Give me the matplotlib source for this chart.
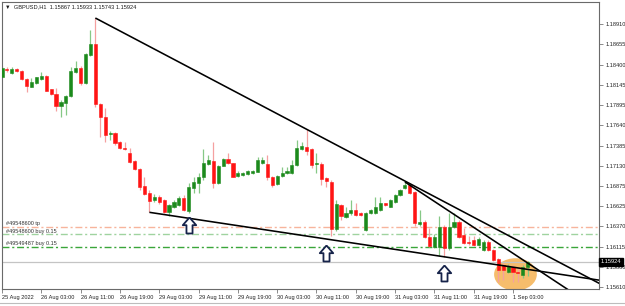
import matplotlib
matplotlib.use("Agg")
import matplotlib.pyplot as plt
from matplotlib.path import Path
from matplotlib.patches import Ellipse
from matplotlib.lines import Line2D
import numpy as np

plt.rcParams.update({"font.family": ["Liberation Sans", "DejaVu Sans"], "font.size": 4})

BULL = "#1c8a1c"; BEAR = "#ff1414"; BULL_W = "#86c886"; BEAR_W = "#f5a0a0"
FRAME = "#6a6a6a"

# GBPUSD H1 candles, bar 0 = 25 Aug 2022 19:00
opens = [1.18249, 1.18345, 1.18291, 1.18345, 1.18324, 1.18220, 1.18123, 1.18173, 1.18224, 1.18258,
         1.18091, 1.18032, 1.17885, 1.17915, 1.18007, 1.18312, 1.18362, 1.18166, 1.18521, 1.18659,
         1.17906, 1.17747, 1.17526, 1.17539, 1.17433, 1.17358, 1.17288, 1.17195, 1.17091, 1.16881,
         1.16786, 1.16702, 1.16743, 1.16702, 1.16555, 1.16618, 1.16639, 1.16723, 1.16567, 1.16849,
         1.16911, 1.16987, 1.17153, 1.17191, 1.16911, 1.17132, 1.17212, 1.17162, 1.17003, 1.17015,
         1.17028, 1.17044, 1.17057, 1.17162, 1.17153, 1.16987, 1.16902, 1.17003, 1.17037, 1.17044,
         1.17141, 1.17338, 1.17370, 1.17338, 1.17150, 1.17150, 1.16974, 1.16931, 1.16334, 1.16639,
         1.16492, 1.16535, 1.16576, 1.16539, 1.16325, 1.16535, 1.16535, 1.16576, 1.16660, 1.16618,
         1.16680, 1.16764, 1.16849, 1.16890, 1.16806, 1.16401, 1.16426, 1.16241, 1.16116, 1.16112,
         1.16363, 1.16099, 1.16367, 1.16429, 1.16263, 1.16178, 1.16200, 1.16137, 1.16074, 1.16178,
         1.16074, 1.15958, 1.15886, 1.15802, 1.15865, 1.15802, 1.15761, 1.15867]
highs = [1.18383, 1.18370, 1.18370, 1.18358, 1.18333, 1.18232, 1.18229, 1.18249, 1.18304, 1.18264,
         1.18094, 1.18103, 1.17956, 1.18019, 1.18374, 1.18450, 1.18383, 1.18546, 1.18835, 1.18985,
         1.17919, 1.17856, 1.17567, 1.17555, 1.17442, 1.17433, 1.17350, 1.17204, 1.17103, 1.16994,
         1.16827, 1.16777, 1.16764, 1.16714, 1.16652, 1.16702, 1.16752, 1.16764, 1.16911, 1.16994,
         1.17037, 1.17338, 1.17266, 1.17426, 1.17141, 1.17229, 1.17288, 1.17166, 1.17066, 1.17059,
         1.17078, 1.17084, 1.17237, 1.17245, 1.17266, 1.17003, 1.17015, 1.17120, 1.17120, 1.17204,
         1.17455, 1.17433, 1.17589, 1.17348, 1.17288, 1.17182, 1.16990, 1.16953, 1.16702, 1.16652,
         1.16618, 1.16702, 1.16660, 1.16551, 1.16551, 1.16589, 1.16743, 1.16743, 1.16670, 1.16714,
         1.16777, 1.16840, 1.16931, 1.16899, 1.16815, 1.16576, 1.16451, 1.16350, 1.16275, 1.16501,
         1.16388, 1.16539, 1.16535, 1.16451, 1.16350, 1.16250, 1.16250, 1.16238, 1.16200, 1.16194,
         1.16087, 1.15974, 1.15911, 1.15899, 1.15886, 1.15849, 1.15886, 1.15933]
lows = [1.18232, 1.18308, 1.18283, 1.18308, 1.18207, 1.18061, 1.18120, 1.18163, 1.18207, 1.18069,
        1.18019, 1.17822, 1.17747, 1.17768, 1.17994, 1.18295, 1.18145, 1.18157, 1.18509, 1.17872,
        1.17496, 1.17433, 1.17455, 1.17392, 1.17342, 1.17329, 1.17172, 1.17078, 1.16827, 1.16764,
        1.16547, 1.16677, 1.16652, 1.16539, 1.16505, 1.16601, 1.16626, 1.16564, 1.16539, 1.16786,
        1.16786, 1.16953, 1.17141, 1.16849, 1.16902, 1.17128, 1.17153, 1.16984, 1.16990, 1.17003,
        1.17015, 1.17034, 1.17053, 1.17153, 1.16953, 1.16861, 1.16890, 1.16987, 1.17028, 1.17034,
        1.17128, 1.17329, 1.17266, 1.17099, 1.17037, 1.16890, 1.16869, 1.16250, 1.16313, 1.16451,
        1.16476, 1.16514, 1.16501, 1.16501, 1.16313, 1.16526, 1.16526, 1.16564, 1.16626, 1.16614,
        1.16670, 1.16752, 1.16840, 1.16777, 1.16375, 1.16375, 1.16225, 1.16112, 1.16099, 1.15999,
        1.15987, 1.16074, 1.16350, 1.16225, 1.16150, 1.16137, 1.16125, 1.16125, 1.16062, 1.16062,
        1.15936, 1.15677, 1.15698, 1.15792, 1.15677, 1.15677, 1.15723, 1.15743]
closes = [1.18354, 1.18333, 1.18345, 1.18320, 1.18220, 1.18136, 1.18179, 1.18241, 1.18258, 1.18073,
          1.18032, 1.17885, 1.17935, 1.18007, 1.18324, 1.18354, 1.18166, 1.18530, 1.18659, 1.17906,
          1.17747, 1.17517, 1.17546, 1.17421, 1.17350, 1.17345, 1.17182, 1.17091, 1.16869, 1.16777,
          1.16689, 1.16743, 1.16673, 1.16547, 1.16639, 1.16680, 1.16727, 1.16576, 1.16861, 1.16931,
          1.16987, 1.17170, 1.17204, 1.16919, 1.17132, 1.17212, 1.17162, 1.16994, 1.17044, 1.17044,
          1.17066, 1.17069, 1.17204, 1.17204, 1.16987, 1.16890, 1.17003, 1.17044, 1.17069, 1.17141,
          1.17350, 1.17379, 1.17320, 1.17141, 1.17170, 1.16965, 1.16944, 1.16334, 1.16652, 1.16501,
          1.16535, 1.16576, 1.16514, 1.16514, 1.16535, 1.16576, 1.16618, 1.16660, 1.16639, 1.16702,
          1.16764, 1.16827, 1.16890, 1.16786, 1.16409, 1.16426, 1.16241, 1.16125, 1.16241, 1.16363,
          1.16099, 1.16363, 1.16429, 1.16241, 1.16166, 1.16158, 1.16137, 1.16209, 1.16178, 1.16074,
          1.15949, 1.15823, 1.15823, 1.15874, 1.15802, 1.15782, 1.15865, 1.15924]

xtick_bars = [0, 8, 16, 24, 32, 40, 48, 56, 64, 72, 80, 88, 96, 104]
xtick_labels = ["25 Aug 2022", "26 Aug 03:00", "26 Aug 11:00", "26 Aug 19:00", "29 Aug 03:00",
                "29 Aug 11:00", "29 Aug 19:00", "30 Aug 03:00", "30 Aug 11:00", "30 Aug 19:00",
                "31 Aug 03:00", "31 Aug 11:00", "31 Aug 19:00", "1 Sep 03:00"]
ytick_vals = [1.18910, 1.18655, 1.18400, 1.18145, 1.17895, 1.17640, 1.17385, 1.17130,
              1.16875, 1.16625, 1.16370, 1.16115, 1.15860, 1.15610]

# trend lines (rays): start bar, start price, second bar, second price
trend_x0 = [19, 82, 30]
trend_y0 = [1.18985, 1.16928, 1.16547]
trend_x1 = [62, 115, 121.3]
trend_y1 = [1.17589, 1.15585, 1.15698]

order_levels = [1.16367, 1.16272, 1.16116]
order_labels = ["#49548600 tp", "#49548600 buy 0.15", "#49549487 buy 0.15"]
order_colors = ["#f7b49c", "#9fd39f", "#3aa63a"]
bid = 1.15924

arrow_bars = [38, 66, 90]
arrow_prices = [1.16392, 1.16033, 1.15782]

ell_bar, ell_price, ell_w, ell_h = 104.5, 1.15768, 8.7, 0.00406

fig = plt.figure(figsize=(6.25, 3.06), dpi=100)
ax = fig.add_axes([2 / 625, 1 - 289 / 306, 597 / 625, 287 / 306])
ax.set_xlim(0, 121.5)
ax.set_ylim(1.15585, 1.19186)

ax.add_patch(Ellipse((ell_bar, ell_price), ell_w, ell_h, color="#f6bd6c", ec="none", zorder=1))

ax.axhline(bid, color="#c4c4c4", lw=0.9, zorder=1.2)
for lev, lab, col in zip(order_levels, order_labels, order_colors):
    ax.axhline(lev, color=col, lw=1.0, dashes=(5, 2, 1.5, 2), zorder=1.3)
    ax.text(0.007, lev + 0.00008, lab, transform=ax.get_yaxis_transform(), ha="left",
            va="bottom", color="#333333", fontsize=4.0, zorder=6)

x = np.arange(len(opens))
o = np.array(opens); h = np.array(highs); l = np.array(lows); c = np.array(closes)
up = c >= o
ax.vlines(x[up], l[up], h[up], color=BULL_W, lw=0.9, zorder=2)
ax.vlines(x[~up], l[~up], h[~up], color=BEAR_W, lw=0.9, zorder=2)
ax.bar(x[up], c[up] - o[up], bottom=o[up], width=0.64, color=BULL, ec=BULL, lw=0.4, zorder=3)
ax.bar(x[~up], o[~up] - c[~up], bottom=c[~up], width=0.64, color=BEAR, ec=BEAR, lw=0.4, zorder=3)

for x0, y0, x1, y1 in zip(trend_x0, trend_y0, trend_x1, trend_y1):
    slope = (y1 - y0) / (x1 - x0)
    xe = 140
    ax.plot([x0, xe], [y0, y0 + slope * (xe - x0)], color="black", lw=1.15, zorder=4,
            solid_capstyle="butt")

arrow = Path([(0, 0.5), (0.42, 0.02), (0.19, 0.02), (0.19, -0.5), (-0.19, -0.5),
              (-0.19, 0.02), (-0.42, 0.02), (0, 0.5)])
ax.plot(arrow_bars, arrow_prices, ls="none", marker=arrow, markersize=11.5,
        mfc="white", mec="#16234a", mew=1.3, zorder=5)

ax.yaxis.tick_right()
ax.set_yticks(ytick_vals)
ax.set_yticklabels([f"{v:.5f}" for v in ytick_vals])
ax.tick_params(axis="y", length=3, width=0.6, color="#777777", pad=1.5,
               labelsize=4.1, labelcolor="#222222")
ax.set_xticks(xtick_bars)
ax.set_xticklabels(xtick_labels)
ax.tick_params(axis="x", length=3, width=0.6, color="#777777", pad=1.5,
               labelsize=4.1, labelcolor="#222222")
for t in ax.get_xticklabels():
    t.set_ha("left")
for s in ax.spines.values():
    s.set_color(FRAME); s.set_linewidth(0.8)

ax.text(1.003, bid, "1.15924", transform=ax.get_yaxis_transform(), ha="left", va="center",
        color="white", fontsize=4.1, zorder=7, clip_on=False,
        bbox=dict(boxstyle="square,pad=0.25", fc="black", ec="black"))

ax.text(0.005, 0.982, "\u25bc  GBPUSD,H1  1.15867 1.15933 1.15743 1.15924", transform=ax.transAxes,
        ha="left", va="center", color="#1a1a1a", fontsize=4.1, zorder=7)

fig.add_artist(Line2D([0, 1], [1 - 303 / 306] * 2, color="#bdbdbd", lw=0.8))

fig.savefig("out.png", dpi=100)
